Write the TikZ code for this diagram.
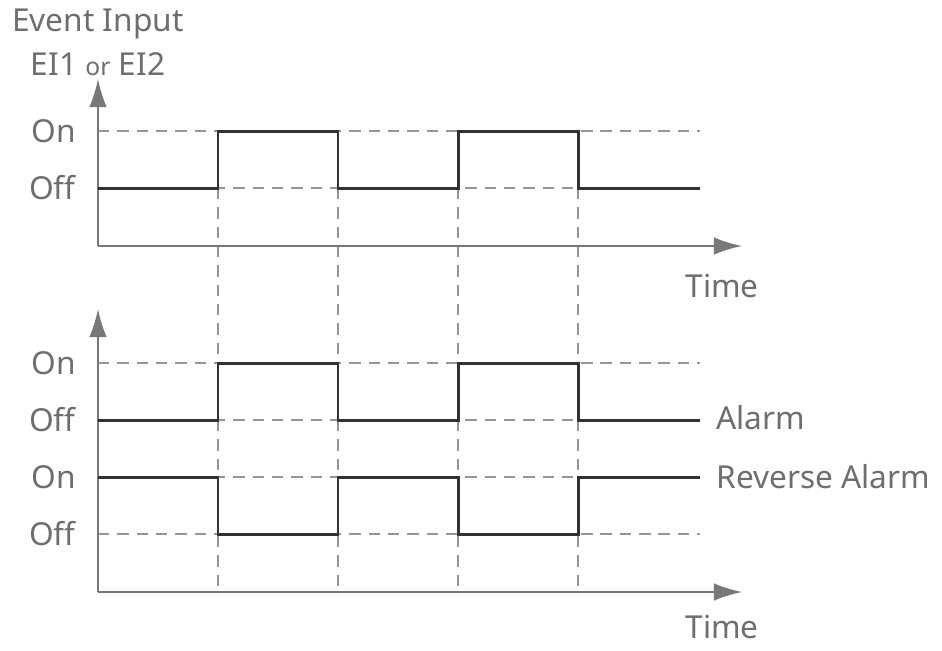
\documentclass[tikz,border=0pt]{standalone}
\usepackage{fontspec}
\setmainfont{Noto Sans}
\usetikzlibrary{arrows.meta}
\definecolor{axisgray}{RGB}{120,120,120}
\definecolor{sigdark}{RGB}{50,50,50}
\definecolor{dashgray}{RGB}{150,150,150}
\definecolor{txtgray}{RGB}{110,110,110}
\tikzset{
  axisline/.style={line width=1.1pt,draw=axisgray,-{Latex[length=16pt,width=10pt]}},
  sigline/.style={line width=1.7pt,draw=sigdark},
  guide/.style={line width=0.8pt,draw=dashgray,dash pattern=on 6.5pt off 4.5pt},
  lbl/.style={text=txtgray,font=\fontsize{18}{21}\selectfont,inner sep=0pt},
}

\begin{document}
\begin{tikzpicture}[x={(0.02cm,0)},y={(0,-0.02cm)}]
\useasboundingbox (0,0) rectangle (942,650);
% vertical guides
\foreach \tx in {218,338,458,578}
  \draw[guide] (\tx,188) -- (\tx,592);
% top chart
\begin{scope}[shift={(0,0)}]
\draw[guide] (98,131) -- (700,131);
\draw[guide] (98,188) -- (700,188);
\draw[axisline] (98,246) -- (98,79);
\draw[axisline] (98,246) -- (742,246);
\draw[sigline] (98,188) -- (218,188) -- (218,131) -- (338,131) -- (338,188)
  -- (458,188) -- (458,131) -- (578,131) -- (578,188) -- (700,188);
\node[lbl,anchor=east] (on1) at (76,131) {On};
\node[lbl,anchor=east] (off1) at (76,188) {Off};
\node[lbl] (title) at (98,24) {Event Input};
\node[lbl] (src) at (98,64) {EI1 {\fontsize{14}{16}\selectfont or} EI2};
\node[lbl] (time1) at (722,286) {Time};
\end{scope}
% bottom chart
\begin{scope}[shift={(0,0)}]
\foreach \ty in {363,420,477,534}
  \draw[guide] (98,\ty) -- (700,\ty);
\draw[axisline] (98,592) -- (98,309);
\draw[axisline] (98,592) -- (742,592);
\draw[sigline] (98,420) -- (218,420) -- (218,363) -- (338,363) -- (338,420)
  -- (458,420) -- (458,363) -- (578,363) -- (578,420) -- (700,420);
\draw[sigline] (98,477) -- (218,477) -- (218,534) -- (338,534) -- (338,477)
  -- (458,477) -- (458,534) -- (578,534) -- (578,477) -- (700,477);
\node[lbl,anchor=east] (on2) at (76,363) {On};
\node[lbl,anchor=east] (off2) at (76,420) {Off};
\node[lbl,anchor=east] (on3) at (76,477) {On};
\node[lbl,anchor=east] (off3) at (76,534) {Off};
\node[lbl,anchor=west] (alarm) at (716,418) {Alarm};
\node[lbl,anchor=west] (revalarm) at (716,477) {Reverse Alarm};
\node[lbl] (time2) at (722,627) {Time};
\end{scope}
\end{tikzpicture}
\end{document}
